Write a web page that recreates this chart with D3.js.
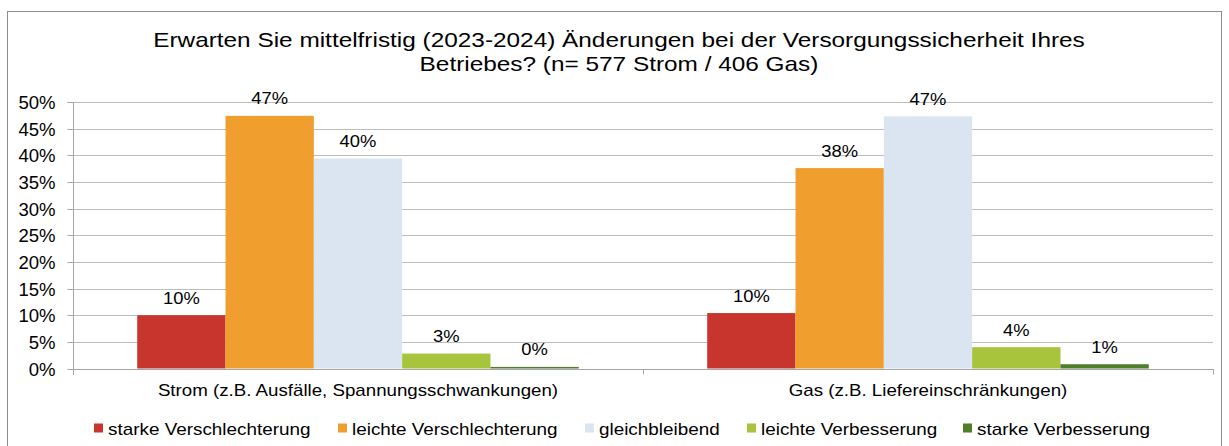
<!DOCTYPE html>
<html>
<head>
<meta charset="utf-8">
<script src="https://cdn.jsdelivr.net/npm/d3@7"></script>
<style>
  html, body { margin: 0; padding: 0; background: #fff; }
  svg { display: block; font-family: "Liberation Sans", Arial, sans-serif; }
</style>
</head>
<body>
<svg id="chart" width="1229" height="446"></svg>
<script>
// Survey answers, share of respondents in percent
const categories = ["Strom (z.B. Ausfälle, Spannungsschwankungen)", "Gas (z.B. Liefereinschränkungen)"];
const seriesNames = ["starke Verschlechterung", "leichte Verschlechterung", "gleichbleibend", "leichte Verbesserung", "starke Verbesserung"];
const seriesColors = ["#C8352C", "#F09E2D", "#DBE4F1", "#A7C43C", "#4F7D2A"];
const stromValues = [10.0, 47.4, 39.4, 2.8, 0.3];
const gasValues = [10.4, 37.6, 47.3, 4.0, 0.8];
const valueLabels = [["10%", "47%", "40%", "3%", "0%"], ["10%", "38%", "47%", "4%", "1%"]];
const yTicks = [0, 5, 10, 15, 20, 25, 30, 35, 40, 45, 50];
const titleLines = ["Erwarten Sie mittelfristig (2023-2024) Änderungen bei der Versorgungssicherheit Ihres",
                    "Betriebes? (n= 577 Strom / 406 Gas)"];

const values = [stromValues, gasValues];

const svg = d3.select("#chart");
const plot = { left: 73, right: 1213, top: 102, bottom: 368.5 };

// widen glyphs horizontally (the chart's typeface runs wider than the fallback font)
function widen(sel, factor) {
  sel.each(function () {
    const w = this.getComputedTextLength();
    d3.select(this).attr("textLength", w * factor).attr("lengthAdjust", "spacingAndGlyphs");
  });
}

// outer frame
svg.append("rect")
  .attr("x", 7.5).attr("y", 11.5)
  .attr("width", 1214).attr("height", 450)
  .attr("fill", "#fff").attr("stroke", "#8C8C8C").attr("stroke-width", 1);

// title
const title = svg.append("g");
titleLines.forEach((t, i) => {
  title.append("text")
    .attr("x", 619).attr("y", 47 + i * 23.5)
    .attr("text-anchor", "middle")
    .attr("font-size", "21px")
    .attr("fill", "#000")
    .text(t);
});
widen(title.selectAll("text"), 1.16);

const y = d3.scaleLinear().domain([0, 50]).range([plot.bottom, plot.top]);
const x0 = d3.scaleBand().domain(categories).range([plot.left, plot.right]).paddingInner(0).paddingOuter(0);
const x1 = d3.scaleBand().domain(seriesNames).range([0, x0.bandwidth()]).paddingInner(0).paddingOuter(0.727);

// gridlines
svg.append("g")
  .selectAll("line")
  .data(yTicks.filter(d => d > 0))
  .join("line")
  .attr("x1", plot.left).attr("x2", plot.right)
  .attr("y1", d => Math.round(y(d)) + 0.5).attr("y2", d => Math.round(y(d)) + 0.5)
  .attr("stroke", "#BDBDBD").attr("stroke-width", 1);

// y axis
const yAxis = d3.axisLeft(y).tickValues(yTicks).tickFormat(d => d + "%").tickSize(6).tickPadding(12);
const yg = svg.append("g").attr("transform", `translate(${plot.left + 0.5},0)`).call(yAxis);
yg.select(".domain").attr("stroke", "#A6A6A6").attr("d", `M-6,${Math.round(y(50)) + 0.5}H0V${plot.bottom + 6}`);
yg.selectAll(".tick line").attr("stroke", "#A6A6A6");
yg.selectAll(".tick").attr("transform", d => `translate(0,${Math.round(y(d)) + 0.5})`);
yg.selectAll(".tick text").attr("font-size", "17.5px").attr("fill", "#000")
  .attr("font-family", "Liberation Sans, Arial, sans-serif").attr("dy", "0.36em");
widen(yg.selectAll(".tick text"), 1.06);

// bars
const groups = svg.append("g")
  .selectAll("g")
  .data(categories)
  .join("g")
  .attr("transform", d => `translate(${x0(d)},0)`);

groups.selectAll("rect")
  .data((c, ci) => seriesNames.map((s, si) => ({ s, si, v: values[ci][si] })))
  .join("rect")
  .attr("x", d => x1(d.s))
  .attr("width", x1.bandwidth())
  .attr("y", d => y(d.v))
  .attr("height", d => y(0) - y(d.v))
  .attr("fill", d => seriesColors[d.si]);

const valueText = groups.selectAll("text")
  .data((c, ci) => seriesNames.map((s, si) => ({ s, si, v: values[ci][si], label: valueLabels[ci][si] })))
  .join("text")
  .attr("x", d => x1(d.s) + x1.bandwidth() / 2)
  .attr("y", d => y(d.v) - 11.5)
  .attr("text-anchor", "middle")
  .attr("font-size", "17px")
  .attr("fill", "#000")
  .text(d => d.label);
widen(valueText, 1.08);

// x axis
const xg = svg.append("g");
xg.append("line")
  .attr("x1", plot.left).attr("x2", plot.right)
  .attr("y1", Math.round(plot.bottom) + 0.5).attr("y2", Math.round(plot.bottom) + 0.5)
  .attr("stroke", "#A6A6A6");
const bounds = [plot.left, x0(categories[1]), plot.right];
xg.selectAll("line.tick")
  .data(bounds)
  .join("line")
  .attr("class", "tick")
  .attr("x1", d => Math.round(d) + 0.5).attr("x2", d => Math.round(d) + 0.5)
  .attr("y1", Math.round(plot.bottom)).attr("y2", plot.bottom + 6)
  .attr("stroke", "#A6A6A6");
const catText = xg.selectAll("text")
  .data(categories)
  .join("text")
  .attr("x", d => x0(d) + x0.bandwidth() / 2)
  .attr("y", 396)
  .attr("text-anchor", "middle")
  .attr("font-size", "17px")
  .attr("fill", "#000")
  .text(d => d);
widen(catText, 1.1);

// legend
const legendX = [94, 338, 585, 747, 963];
const legend = svg.append("g")
  .selectAll("g")
  .data(seriesNames)
  .join("g")
  .attr("transform", (d, i) => `translate(${legendX[i]},0)`);
legend.append("rect")
  .attr("x", 0).attr("y", 423.5)
  .attr("width", 9).attr("height", 9)
  .attr("fill", (d, i) => seriesColors[i]);
const legendText = legend.append("text")
  .attr("x", 14).attr("y", 435)
  .attr("font-size", "17px")
  .attr("fill", "#000")
  .text(d => d);
widen(legendText, 1.11);
</script>
</body>
</html>
